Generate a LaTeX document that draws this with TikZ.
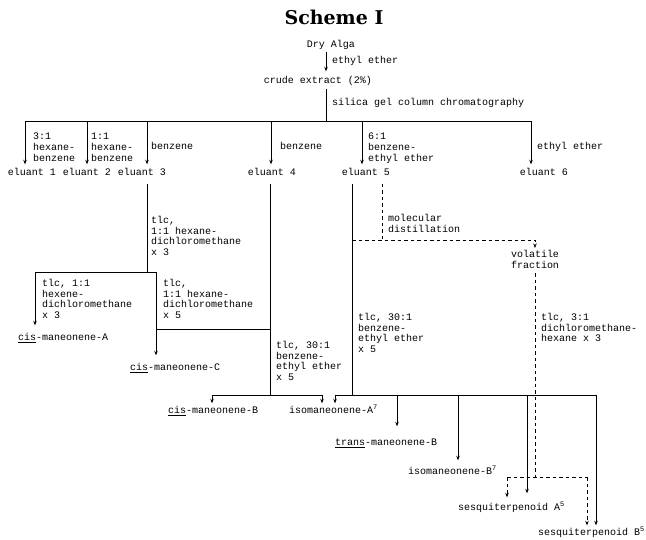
\documentclass[tikz,border=0pt]{standalone}
\usepackage{fontspec}
\usetikzlibrary{arrows.meta}
\newfontfamily\mono{Liberation Mono}
\newfontfamily\titlefont{DejaVu Serif}
\tikzset{
  txt/.style={font=\mono\fontsize{10}{10.7}\selectfont, inner sep=0pt, text height=7pt, text depth=2pt},
  lbl/.style={font=\mono\fontsize{10}{10.7}\selectfont, inner sep=0pt, align=left, anchor=north west},
  ln/.style={line width=0.8pt},
  arr/.style={ln, -{Stealth[length=4.5pt,width=3.5pt]}},
  dsh/.style={ln, dash pattern=on 3.5pt off 3pt},
  darr/.style={dsh, -{Stealth[length=4.5pt,width=3.5pt]}},
}
\begin{document}
\begin{tikzpicture}[x=1pt,y=-1pt]
\useasboundingbox (0,0) rectangle (646,540);
\fill[white] (0,0) rectangle (646,540);

% title and top chain
\node[font=\titlefont\bfseries\fontsize{19}{22}\selectfont, inner sep=0pt] (title) at (334,17) {Scheme I};
\node[txt] (dry) at (331,45) {Dry Alga};
\node[txt] (crude) at (318,81) {crude extract (2\%)};
\coordinate (stem) at (326,0);
\draw[arr, shorten <=2pt, shorten >=5pt] (dry.south -| stem) -- (crude.north -| stem);
\node[txt, anchor=west] (lee) at (332,61) {ethyl ether};
\coordinate (hTop) at (326,121);
\draw[ln, shorten <=3pt] (crude.south -| stem) -- (hTop);
\node[txt, anchor=west] (lsil) at (332,103) {silica gel column chromatography};

% first split
\coordinate (hL) at (25,121);
\coordinate (hR) at (531,121);
\coordinate (d2) at (87,121);
\coordinate (d3) at (147,121);
\coordinate (d4) at (271,121);
\coordinate (d5) at (362,121);
\draw[ln] (hL) -- (hR);

\node[txt] (e1) at (32,173) {eluant 1};
\node[txt] (e2) at (87,173) {eluant 2};
\node[txt] (e3) at (142,173) {eluant 3};
\node[txt] (e4) at (272,173) {eluant 4};
\node[txt] (e5) at (366,173) {eluant 5};
\node[txt] (e6) at (544,173) {eluant 6};

\draw[arr, shorten >=4pt] (hL) -- (hL |- e1.north);
\draw[arr, shorten >=4pt] (d2) -- (d2 |- e2.north);
\draw[arr, shorten >=4pt] (d3) -- (d3 |- e3.north);
\draw[arr, shorten >=4pt] (d4) -- (d4 |- e4.north);
\draw[arr, shorten >=4pt] (d5) -- (d5 |- e5.north);
\draw[arr, shorten >=4pt] (hR) -- (hR |- e6.north);

\node[lbl] (l1) at (33,133) {3:1\\hexane-\\benzene};
\node[lbl] (l2) at (91,133) {1:1\\hexane-\\benzene};
\node[txt, anchor=west] (l3) at (151,147) {benzene};
\node[txt, anchor=west] (l4) at (280,147) {benzene};
\node[lbl] (l5) at (368,133) {6:1\\benzene-\\ethyl ether};
\node[txt, anchor=west] (l6) at (537,147) {ethyl ether};

% eluant 3 branch
\coordinate (j3) at (147,272);
\coordinate (h3L) at (35,272);
\coordinate (h3R) at (156,272);
\coordinate (j4m) at (270,329);
\node[txt, anchor=west] (cisA) at (18,338) {\underline{cis}-maneonene-A};
\node[txt, anchor=west] (cisC) at (130,368) {\underline{cis}-maneonene-C};
\draw[ln, shorten <=6pt] (e3.south -| j3) -- (j3);
\draw[ln] (h3L) -- (h3R);
\draw[arr, shorten >=8pt] (h3L) -- (h3L |- cisA.north);
\draw[arr, shorten >=8pt] (h3R) -- (h3R |- cisC.north);
\draw[ln] (h3R |- j4m) -- (j4m);
\node[lbl] (l3a) at (151,216) {tlc,\\1:1 hexane-\\dichloromethane\\x 3};
\node[lbl] (l3b) at (42,279) {tlc, 1:1\\hexene-\\dichloromethane\\x 3};
\node[lbl] (l3c) at (163,279) {tlc,\\1:1 hexane-\\dichloromethane\\x 5};

% eluant 4 branch
\coordinate (j4) at (270,395);
\coordinate (bL) at (212,395);
\coordinate (bM) at (322,395);
\node[txt, anchor=west] (cisB) at (168,411) {\underline{cis}-maneonene-B};
\node[txt, anchor=west] (isoA) at (289,411) {isomaneonene-A\textsuperscript{7}};
\draw[ln, shorten <=6pt] (e4.south -| j4) -- (j4);
\draw[ln] (bL) -- (bM);
\draw[arr, shorten >=3pt] (bL) -- (bL |- cisB.north);
\draw[arr, shorten >=3pt] (bM) -- (bM |- isoA.north);
\node[lbl] (l4b) at (276,341) {tlc, 30:1\\benzene-\\ethyl ether\\x 5};

% eluant 5 branch
\coordinate (j5) at (352,395);
\coordinate (m1) at (382,240);
\coordinate (v0) at (352,240);
\coordinate (v1) at (535,240);
\node[font=\mono\fontsize{10}{11.5}\selectfont, inner sep=0pt, align=center, anchor=north] (vol) at (535,250) {volatile\\fraction};
\draw[ln, shorten <=6pt] (e5.south -| j5) -- (j5);
\draw[dsh, shorten <=6pt] (e5.south -| m1) -- (m1);
\draw[darr, shorten >=2pt] (v0) -- (v1) -- (v1 |- vol.north);
\node[lbl] (lmol) at (388,214) {molecular\\distillation};
\node[lbl] (l5b) at (358,313) {tlc, 30:1\\benzene-\\ethyl ether\\x 5};
\node[lbl] (l5c) at (541,313) {tlc, 3:1\\dichloromethane-\\hexane x 3};

\node[txt, anchor=west] (trans) at (335,443) {\underline{trans}-maneonene-B};
\node[txt, anchor=west] (isoB) at (408,472) {isomaneonene-B\textsuperscript{7}};
\node[txt, anchor=west] (sesqA) at (458,508) {sesquiterpenoid A\textsuperscript{5}};
\node[txt, anchor=west] (sesqB) at (538,533) {sesquiterpenoid B\textsuperscript{5}};

\coordinate (rL) at (335,395);
\coordinate (r2) at (397,395);
\coordinate (r3) at (458,395);
\coordinate (r4) at (527,395);
\coordinate (rR) at (596,395);
\draw[ln] (rL) -- (rR);
\draw[arr, shorten >=3pt] (rL) -- (rL |- isoA.north);
\draw[arr, shorten >=12pt] (r2) -- (r2 |- trans.north);
\draw[arr, shorten >=7pt] (r3) -- (r3 |- isoB.north);
\draw[arr, shorten >=10pt] (r4) -- (r4 |- sesqA.north);
\draw[arr, shorten >=3pt] (rR) -- (rR |- sesqB.north);

% dashed volatile path
\coordinate (dj) at (535,477);
\coordinate (dL) at (507,477);
\coordinate (dR) at (587,477);
\draw[dsh, shorten <=4pt] (vol.south) -- (dj);
\draw[dsh] (dL) -- (dR);
\draw[darr, shorten >=6pt] (dL) -- (dL |- sesqA.north);
\draw[darr, shorten >=3pt] (dR) -- (dR |- sesqB.north);
\end{tikzpicture}
\end{document}
